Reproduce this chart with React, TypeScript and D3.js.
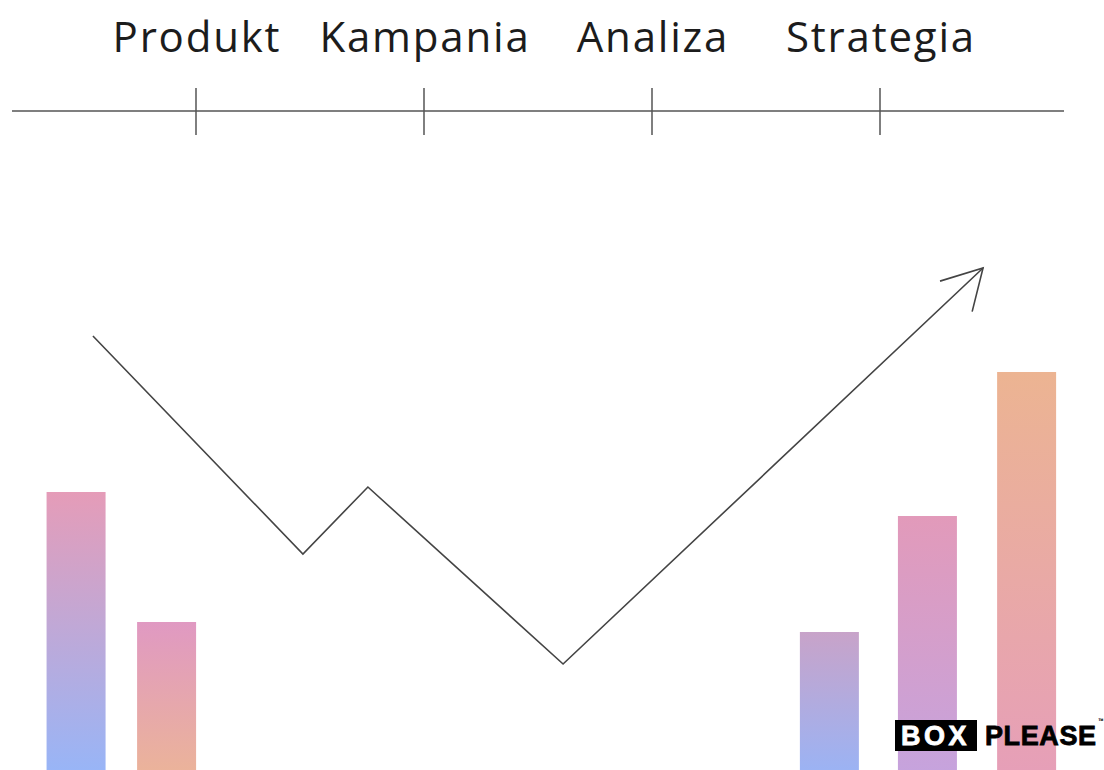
import React, { useEffect, useRef } from 'react';
import * as d3 from 'd3';

const steps = ['Produkt', 'Kampania', 'Analiza', 'Strategia'];

// bar positions in timeline units (0 = Produkt, 3 = Strategia) and heights
const barPos = [-0.526, -0.129, 2.778, 3.208, 3.643];
const barValues = [70, 37.5, 35, 64, 100];
const barTop = ['#e59cb8', '#e099c2', '#c8a3c9', '#e29aba', '#ecb492'];
const barBottom = ['#98b5f7', '#ebb39a', '#9bb3f4', '#c6a3dd', '#e69fb8'];

// the zig-zag trend arrow
const lineX = [-0.452, 0.469, 0.754, 1.61, 3.452];
const lineY = [109, 54.5, 71.25, 27, 126];

const W = 1104;
const H = 770;

const App = () => {
  const svgRef = useRef<SVGSVGElement>(null);

  useEffect(() => {
    if (!svgRef.current) return;
    const svg = d3.select(svgRef.current);
    svg.selectAll('*').remove();

    const x = d3.scalePoint<string>().domain(steps).range([12, 1064]).padding(0.807);
    const xl = d3.scaleLinear().domain([0, 3]).range([x(steps[0])!, x(steps[3])!]);
    const y = d3.scaleLinear().domain([0, 100]).range([772, 372]);
    const barW = 59;

    const defs = svg.append('defs');
    barValues.forEach((v, i) => {
      const g = defs.append('linearGradient')
        .attr('id', 'bg' + i)
        .attr('x1', 0).attr('y1', 0).attr('x2', 0).attr('y2', 1);
      g.append('stop').attr('offset', '0%').attr('stop-color', barTop[i]);
      g.append('stop').attr('offset', '100%').attr('stop-color', barBottom[i]);
    });

    // bars
    svg.append('g')
      .selectAll('rect')
      .data(barValues)
      .join('rect')
      .attr('x', (d, i) => xl(barPos[i]) - barW / 2)
      .attr('y', (d) => y(d))
      .attr('width', barW)
      .attr('height', (d) => y(0) - y(d))
      .attr('fill', (d, i) => `url(#bg${i})`);

    // timeline
    const axis = svg.append('g');
    axis.append('line')
      .attr('x1', x.range()[0]).attr('x2', x.range()[1])
      .attr('y1', 111).attr('y2', 111)
      .attr('stroke', '#555').attr('stroke-width', 1.5);
    axis.selectAll('.tick')
      .data(steps)
      .join('line')
      .attr('class', 'tick')
      .attr('x1', (d) => x(d)!).attr('x2', (d) => x(d)!)
      .attr('y1', 88).attr('y2', 135)
      .attr('stroke', '#555').attr('stroke-width', 1.5);
    axis.selectAll('.lbl')
      .data(steps)
      .join('text')
      .attr('class', 'lbl')
      .attr('x', (d) => x(d)! + 1)
      .attr('y', 52)
      .attr('text-anchor', 'middle')
      .style('font', '42px "Open Sans", sans-serif')
      .style('letter-spacing', '1.8px')
      .attr('fill', '#1c1c1c')
      .text((d) => d);

    // trend line with arrow head
    const pts: [number, number][] = lineX.map((v, i) => [xl(v), y(lineY[i])]);
    svg.append('path')
      .attr('d', d3.line()(pts))
      .attr('fill', 'none')
      .attr('stroke', '#444')
      .attr('stroke-width', 1.6)
      .attr('stroke-linejoin', 'miter');

    const tip = pts[pts.length - 1];
    const prev = pts[pts.length - 2];
    const back = Math.atan2(prev[1] - tip[1], prev[0] - tip[0]);
    const len = 45;
    const head: [number, number][] = [
      [tip[0] + len * Math.cos(back + 0.46), tip[1] + len * Math.sin(back + 0.46)],
      tip,
      [tip[0] + len * Math.cos(back - 0.57), tip[1] + len * Math.sin(back - 0.57)],
    ];
    svg.append('path')
      .attr('d', d3.line()(head))
      .attr('fill', 'none')
      .attr('stroke', '#444')
      .attr('stroke-width', 1.6)
      .attr('stroke-linejoin', 'miter');

    // logo
    const logo = svg.append('g').attr('transform', 'translate(895,720)');
    logo.append('rect').attr('width', 82).attr('height', 31).attr('fill', '#000');
    logo.append('text')
      .attr('x', 6).attr('y', 25)
      .style('font', '700 27px "Liberation Sans", Arial, sans-serif')
      .style('letter-spacing', '3.5px')
      .attr('fill', '#fff')
      .attr('stroke', '#fff')
      .attr('stroke-width', 0.8)
      .text('BOX');
    logo.append('text')
      .attr('x', 90).attr('y', 25)
      .style('font', '700 27px "Liberation Sans", Arial, sans-serif')
      .style('letter-spacing', '0.6px')
      .attr('fill', '#000')
      .attr('stroke', '#000')
      .attr('stroke-width', 0.8)
      .text('PLEASE');
    logo.append('text')
      .attr('x', 203).attr('y', 5)
      .style('font', '700 9px Roboto, sans-serif')
      .attr('fill', '#000')
      .text('™');
  }, []);

  return (
    <svg
      ref={svgRef}
      width={W}
      height={H}
      style={{ position: 'absolute', left: 0, top: 0, background: '#fff' }}
    />
  );
};

export default App;
